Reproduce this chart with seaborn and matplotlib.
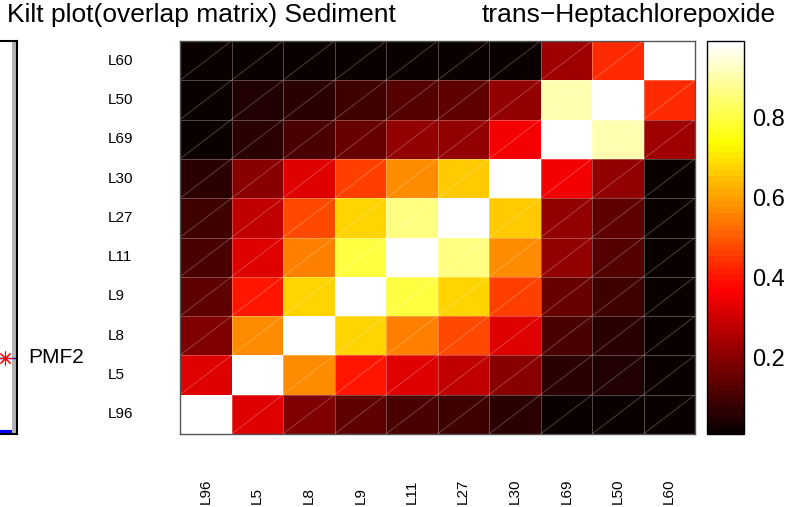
import numpy as np
import pandas as pd
import matplotlib
matplotlib.use("Agg")
import matplotlib.pyplot as plt
from matplotlib.colors import ListedColormap
import seaborn as sns

sns.set_theme(style="white")
plt.rcParams['font.family'] = ['Liberation Sans', 'DejaVu Sans']
plt.rcParams['text.color'] = 'black'
plt.rcParams['xtick.color'] = 'black'
plt.rcParams['ytick.color'] = 'black'
plt.rcParams['axes.labelcolor'] = 'black'

# ---- data ----
labels = ["L96", "L5", "L8", "L9", "L11", "L27", "L30", "L69", "L50", "L60"]
row_L96 = [0.99, 0.323, 0.185, 0.133, 0.104, 0.086, 0.058, 0.023, 0.010, 0.015]
row_L5  = [0.323, 0.99, 0.565, 0.397, 0.323, 0.277, 0.197, 0.058, 0.040, 0.015]
row_L8  = [0.185, 0.565, 0.99, 0.671, 0.553, 0.478, 0.323, 0.104, 0.058, 0.015]
row_L9  = [0.133, 0.397, 0.671, 0.99, 0.798, 0.683, 0.461, 0.161, 0.092, 0.015]
row_L11 = [0.104, 0.323, 0.553, 0.798, 0.99, 0.859, 0.565, 0.208, 0.127, 0.015]
row_L27 = [0.086, 0.277, 0.478, 0.683, 0.859, 0.99, 0.657, 0.208, 0.139, 0.015]
row_L30 = [0.058, 0.197, 0.323, 0.461, 0.565, 0.657, 0.99, 0.354, 0.208, 0.015]
row_L69 = [0.023, 0.058, 0.104, 0.161, 0.208, 0.208, 0.354, 0.99, 0.900, 0.231]
row_L50 = [0.010, 0.040, 0.058, 0.092, 0.127, 0.139, 0.208, 0.900, 0.99, 0.426]
row_L60 = [0.015, 0.015, 0.015, 0.015, 0.015, 0.015, 0.015, 0.231, 0.426, 0.99]
cbar_ticks = [0.2, 0.4, 0.6, 0.8]
pmf_labels = ["PMF2"]
pmf_levels = [1.0]

rows = [row_L96, row_L5, row_L8, row_L9, row_L11, row_L27, row_L30, row_L69, row_L50, row_L60]
mat = pd.DataFrame(rows, index=labels, columns=labels)
df = mat.iloc[::-1]  # top row L60, bottom row L96

W, H = 790, 507
fig = plt.figure(figsize=(W / 100, H / 100), dpi=100)

def fx(px):
    return px / W

def fy(px):
    return 1 - px / H

ax_left, ax_right, ax_top, ax_bot = 180, 695, 41, 434
ax = fig.add_axes([fx(ax_left), fy(ax_bot), fx(ax_right - ax_left), (ax_bot - ax_top) / H])
cax = fig.add_axes([fx(707), fy(ax_bot), fx(37), (ax_bot - ax_top) / H])

cmap = ListedColormap(plt.get_cmap('hot')(np.linspace(0, 1, 64)))
sns.heatmap(df, ax=ax, cmap=cmap, vmin=0.008, vmax=0.99, cbar_ax=cax,
            linewidths=0.6, linecolor=(1, 1, 1, 0.28),
            xticklabels=labels, yticklabels=list(df.index))

n = len(labels)
for i in range(n):
    for j in range(n):
        ax.plot([j, j + 1], [i + 1, i], color='white', alpha=0.28, lw=0.6)

for s in ax.spines.values():
    s.set_visible(True)
    s.set_color('#555555')
    s.set_linewidth(1.0)

ax.tick_params(axis='both', length=0)
ax.tick_params(axis='y', pad=51.8, labelsize=11)
for t in ax.get_yticklabels():
    t.set_ha('left')
    t.set_rotation(0)
ax.tick_params(axis='x', pad=50.4, labelsize=11)
for t in ax.get_xticklabels():
    t.set_rotation(90)
    t.set_va('bottom')
    t.set_ha('center')
ax.set_xlabel('')
ax.set_ylabel('')

# colorbar styling
cb = ax.collections[0].colorbar
cb.set_ticks(cbar_ticks)
cb.set_ticklabels([f"{v:.1f}" for v in cbar_ticks])
cb.outline.set_edgecolor('black')
cb.outline.set_linewidth(1.0)
cax.tick_params(axis='y', direction='in', left=True, right=True, length=4,
                width=0.8, color='black', labelsize=17, pad=6)

# left kilt-plot fragment
axl = fig.add_axes([fx(-16), fy(ax_bot), fx(33), (ax_bot - ax_top) / H])
axl.set_xlim(-16, 17)
axl.set_ylim(0, 5.17)
axl.axvspan(11.5, 17, color='#b3b3b3', lw=0)
for lab, lev in zip(pmf_labels, pmf_levels):
    axl.plot([-16, 17], [lev, lev], color='blue', lw=1)
    axl.plot([5], [lev], marker=(8, 2, 0), color='red', ms=10, mew=0.8)
    axl.text(28, lev, lab, fontsize=15, va='center', ha='left', clip_on=False)
axl.plot([-16, 12], [0.02, 0.02], color='blue', lw=3, clip_on=False, solid_capstyle='butt')
for name, s in axl.spines.items():
    s.set_color('black')
    s.set_linewidth(1.5)
axl.spines['left'].set_visible(False)
axl.set_xticks([])
axl.set_yticks([])
axl.set_facecolor('white')

fig.text(fx(7), fy(22), "Kilt plot(overlap matrix) Sediment", fontsize=19,
         ha='left', va='baseline')
fig.text(fx(482), fy(22), "trans\u2212Heptachlorepoxide", fontsize=19,
         ha='left', va='baseline')

fig.savefig("out.png", dpi=100)
